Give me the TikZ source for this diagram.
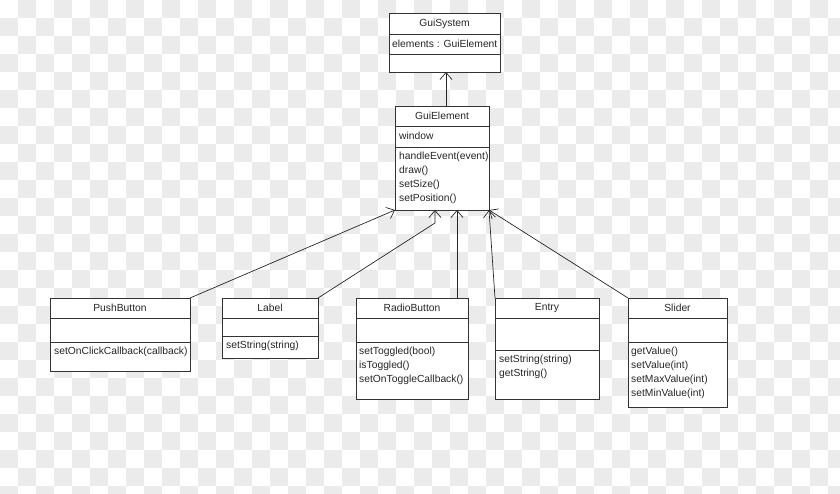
\documentclass[tikz,border=0pt]{standalone}
\usepackage{fontspec}
\setmainfont{Liberation Sans}
\usetikzlibrary{arrows.meta}

\begin{document}
\begin{tikzpicture}[x=1pt,y=-1pt,
		class_style/.style={rectangle,draw=black!80,fill=white,line width=0.8pt,anchor=north west,inner sep=0pt,outer sep=0pt},
		sep_style/.style={draw=black!80,line width=0.8pt},
		name_style/.style={inner sep=0pt,text=black!85,font=\fontsize{10.3}{14}\selectfont},
		member_style/.style={anchor=north west,inner sep=0pt,align=left,text=black!85,font=\fontsize{10.3}{14}\selectfont},
		edge_style/.style={draw=black!85,line width=0.7pt,-{Straight Barb[length=7pt,width=12pt,line width=0.7pt]}}]

		\useasboundingbox (0,0) rectangle (840,493);
		\foreach \i in {0,...,46}{
			\foreach \j in {0,...,27}{
				\pgfmathtruncatemacro\odd{mod(\i+\j,2)}
				\ifnum\odd=1 \fill[black!8] (\i*18,\j*18) rectangle ++(18,18);\fi
			}
		}

		\node[class_style,minimum width=111,minimum height=59] (guisys) at (389,13) {};
		\draw[sep_style] ([yshift=-21pt]guisys.north west) -- ([yshift=-21pt]guisys.north east);
		\draw[sep_style] ([yshift=-41pt]guisys.north west) -- ([yshift=-41pt]guisys.north east);
		\node[name_style] (guisys_name) at ([yshift=-10.5pt]guisys.north) {GuiSystem};
		\node[member_style] (guisys_attr) at ([shift={(3pt,-26.5pt)}]guisys.north west) {elements : GuiElement};

		\node[class_style,minimum width=94,minimum height=104] (guielem) at (395,106) {};
		\draw[sep_style] ([yshift=-20pt]guielem.north west) -- ([yshift=-20pt]guielem.north east);
		\draw[sep_style] ([yshift=-41pt]guielem.north west) -- ([yshift=-41pt]guielem.north east);
		\node[name_style] (guielem_name) at ([yshift=-10pt]guielem.north) {GuiElement};
		\node[member_style] (guielem_attr) at ([shift={(4pt,-25.5pt)}]guielem.north west) {window};
		\node[member_style] (guielem_ops) at ([shift={(4pt,-46pt)}]guielem.north west) {handleEvent(event)\\draw()\\setSize()\\setPosition()};

		\node[class_style,minimum width=140,minimum height=73] (pushbtn) at (50,298) {};
		\draw[sep_style] ([yshift=-20pt]pushbtn.north west) -- ([yshift=-20pt]pushbtn.north east);
		\draw[sep_style] ([yshift=-44pt]pushbtn.north west) -- ([yshift=-44pt]pushbtn.north east);
		\node[name_style] (pushbtn_name) at ([yshift=-10pt]pushbtn.north) {PushButton};
		\node[member_style] (pushbtn_ops) at ([shift={(4pt,-49pt)}]pushbtn.north west) {setOnClickCallback(callback)};

		\node[class_style,minimum width=96,minimum height=60] (label) at (222,298) {};
		\draw[sep_style] ([yshift=-20pt]label.north west) -- ([yshift=-20pt]label.north east);
		\draw[sep_style] ([yshift=-38pt]label.north west) -- ([yshift=-38pt]label.north east);
		\node[name_style] (label_name) at ([yshift=-10pt]label.north) {Label};
		\node[member_style] (label_ops) at ([shift={(4pt,-43pt)}]label.north west) {setString(string)};

		\node[class_style,minimum width=112,minimum height=101] (radiobtn) at (356,298) {};
		\draw[sep_style] ([yshift=-20pt]radiobtn.north west) -- ([yshift=-20pt]radiobtn.north east);
		\draw[sep_style] ([yshift=-44pt]radiobtn.north west) -- ([yshift=-44pt]radiobtn.north east);
		\node[name_style] (radiobtn_name) at ([yshift=-10pt]radiobtn.north) {RadioButton};
		\node[member_style] (radiobtn_ops) at ([shift={(3pt,-49pt)}]radiobtn.north west) {setToggled(bool)\\isToggled()\\setOnToggleCallback()};

		\node[class_style,minimum width=104,minimum height=101] (entry) at (495,298) {};
		\draw[sep_style] ([yshift=-20pt]entry.north west) -- ([yshift=-20pt]entry.north east);
		\draw[sep_style] ([yshift=-52pt]entry.north west) -- ([yshift=-52pt]entry.north east);
		\node[name_style] (entry_name) at ([yshift=-10pt]entry.north) {Entry};
		\node[member_style] (entry_ops) at ([shift={(4pt,-57pt)}]entry.north west) {setString(string)\\getString()};

		\node[class_style,minimum width=99,minimum height=109] (slider) at (628,298) {};
		\draw[sep_style] ([yshift=-20pt]slider.north west) -- ([yshift=-20pt]slider.north east);
		\draw[sep_style] ([yshift=-44pt]slider.north west) -- ([yshift=-44pt]slider.north east);
		\node[name_style] (slider_name) at ([yshift=-10pt]slider.north) {Slider};
		\node[member_style] (slider_ops) at ([shift={(3pt,-49pt)}]slider.north west) {getValue()\\setValue(int)\\setMaxValue(int)\\setMinValue(int)};

		\coordinate (label_bend) at (435,223);
		\coordinate (label_tip) at ([xshift=40pt]guielem.south west);
		\coordinate (radio_foot) at ([xshift=101pt]radiobtn.north west);

		\draw[edge_style] ([xshift=4pt]guielem.north) -- ([xshift=4pt]guielem.north |- guisys.south);
		\draw[edge_style] (pushbtn.north east) -- (guielem.south west);
		\draw[edge_style] (label.north east) -- (label_bend) -- (label_tip);
		\draw[edge_style] (radio_foot) -- (radio_foot |- guielem.south);
		\draw[edge_style] (entry.north west) -- (guielem.south east);
		\draw[edge_style] (slider.north west) -- (guielem.south east);

		\end{tikzpicture}
\end{document}
